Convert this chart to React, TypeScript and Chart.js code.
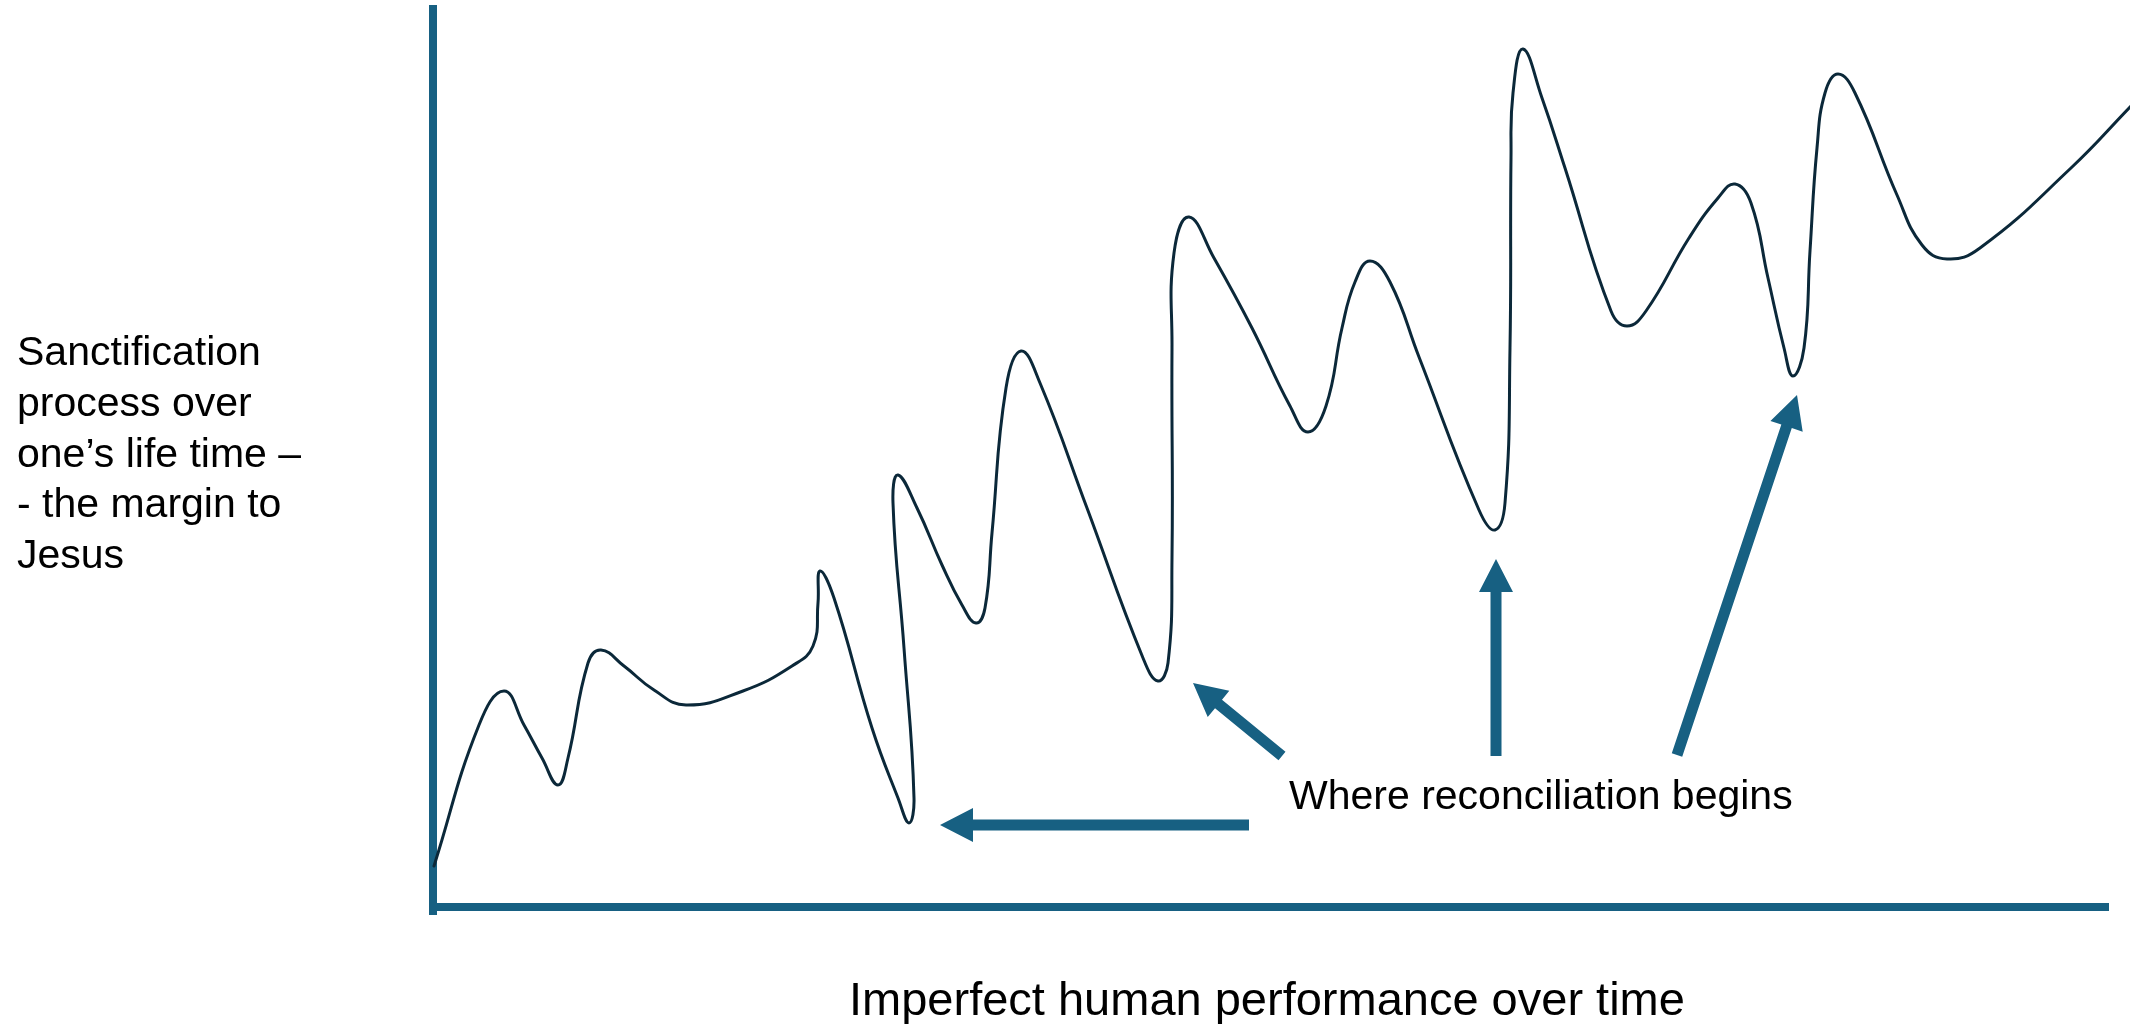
import React, { useEffect, useRef } from "react";
import { Chart, registerables } from "chart.js";

Chart.register(...registerables);

// Curve: time (x) vs sanctification margin (y), arbitrary units
const timeValues = [
  0.1, 4.6, 7.1, 9.1, 10.9, 12.5, 13.5, 15.5, 16.8, 19.1, 22.1, 25.3, 31.0, 35.9, 38.0, 38.5, 38.7, 40.1,
  43.9, 46.5, 47.6, 48.1, 47.1, 46.0, 46.5, 48.4, 50.9, 52.9, 54.3, 55.2, 55.9, 57.3, 58.8, 60.7, 65.4,
  71.0, 72.5, 73.5, 73.9, 73.9, 74.1, 75.6, 78.1, 81.9, 85.7, 87.5, 89.3, 90.9, 92.2, 93.7, 95.7, 98.6,
  104.6, 106.2, 107.2, 107.7, 107.8, 108.0, 109.0, 110.9, 113.2, 117.8, 119.4, 121.3, 125.6, 128.5, 130.2,
  131.8, 133.5, 135.1, 136.0, 137.1, 137.7, 138.4, 139.2, 140.5, 142.2, 146.4, 148.9, 151.4, 154.7, 163.8,
  169.8,
];
const marginValues = [
  4.1, 18.2, 21.6, 18.2, 14.9, 12.2, 14.9, 24.4, 25.7, 24.1, 21.7, 20.2, 21.6, 24.1, 26.1, 30.4, 33.6, 30.9,
  17.9, 10.9, 8.4, 10.9, 25.9, 40.4, 43.2, 39.9, 34.2, 30.2, 28.4, 29.9, 37.4, 51.9, 55.6, 52.4, 39.9,
  24.9, 22.6, 24.4, 34.9, 55.9, 65.4, 69.0, 64.9, 57.9, 50.1, 47.5, 50.1, 57.9, 62.5, 64.6, 62.5, 55.0,
  39.7, 37.7, 40.4, 55.9, 74.9, 81.4, 85.8, 80.9, 73.9, 59.6, 58.1, 59.6, 66.9, 70.9, 72.3,
  70.4, 62.9, 55.9, 53.1, 55.9, 65.6, 75.9, 81.4, 83.3, 81.4, 71.2, 66.2, 64.8, 65.9, 73.9,
  80.1,
];

// Arrows "Where reconciliation begins" (tail -> tip), same units
const arrowTailX = [81.6, 84.9, 106.3, 124.4];
const arrowTailY = [8.2, 15.1, 15.1, 15.2];
const arrowTipX = [50.7, 76.0, 106.3, 136.4];
const arrowTipY = [8.2, 22.4, 34.8, 51.2];

// Texts
const yAxisLabelLines = [
  "Sanctification",
  "process over",
  "one\u2019s life time \u2013",
  "- the margin to",
  "Jesus",
];
const xAxisLabel = "Imperfect human performance over time";
const calloutLabel = "Where reconciliation begins";

const AXIS_COLOR = "#176082";
const CURVE_COLOR = "#0b2839";
const FONT = '"Liberation Sans", Arial, sans-serif';

export default function App() {
  const canvasRef = useRef<HTMLCanvasElement | null>(null);

  useEffect(() => {
    document.body.style.margin = "0";
    const canvas = canvasRef.current;
    if (!canvas) return;

    const points = timeValues.map((x, i) => ({ x, y: marginValues[i] }));

    const arrowPlugin = {
      id: "reconciliationArrows",
      afterDatasetsDraw(chart: any) {
        const { ctx } = chart;
        const xs = chart.scales.x;
        const ys = chart.scales.y;
        ctx.save();
        ctx.fillStyle = AXIS_COLOR;
        const headLen = 33;
        const headHalf = 17;
        const shaftHalf = 5.5;
        for (let i = 0; i < arrowTipX.length; i++) {
          const x0 = xs.getPixelForValue(arrowTailX[i]);
          const y0 = ys.getPixelForValue(arrowTailY[i]);
          const x1 = xs.getPixelForValue(arrowTipX[i]);
          const y1 = ys.getPixelForValue(arrowTipY[i]);
          const dx = x1 - x0;
          const dy = y1 - y0;
          const len = Math.hypot(dx, dy);
          const ux = dx / len;
          const uy = dy / len;
          const nx = -uy;
          const ny = ux;
          const bx = x1 - ux * headLen;
          const by = y1 - uy * headLen;
          ctx.beginPath();
          ctx.moveTo(x0 + nx * shaftHalf, y0 + ny * shaftHalf);
          ctx.lineTo(bx + nx * shaftHalf, by + ny * shaftHalf);
          ctx.lineTo(bx + nx * headHalf, by + ny * headHalf);
          ctx.lineTo(x1, y1);
          ctx.lineTo(bx - nx * headHalf, by - ny * headHalf);
          ctx.lineTo(bx - nx * shaftHalf, by - ny * shaftHalf);
          ctx.lineTo(x0 - nx * shaftHalf, y0 - ny * shaftHalf);
          ctx.closePath();
          ctx.fill();
        }
        ctx.restore();
      },
    };

    const textPlugin = {
      id: "diagramTexts",
      afterDraw(chart: any) {
        const { ctx } = chart;
        ctx.save();
        ctx.fillStyle = "#000000";
        ctx.textAlign = "left";
        ctx.textBaseline = "alphabetic";
        ctx.font = `41px ${FONT}`;
        yAxisLabelLines.forEach((line, i) => {
          ctx.fillText(line, 17, 365 + i * 50.8);
        });
        ctx.fillText(calloutLabel, 1289, 809);
        ctx.font = `47px ${FONT}`;
        ctx.fillText(xAxisLabel, 849, 1015);
        ctx.restore();
      },
    };

    const chart = new Chart(canvas, {
      type: "line",
      data: {
        datasets: [
          {
            data: points,
            borderColor: CURVE_COLOR,
            borderWidth: 3,
            pointRadius: 0,
            pointHoverRadius: 0,
            tension: 0.45,
            fill: false,
            clip: false as any,
            capBezierPoints: false,
            borderJoinStyle: "round",
            borderCapStyle: "round",
          } as any,
        ],
      },
      options: {
        responsive: false,
        animation: false,
        devicePixelRatio: 1,
        events: [],
        layout: { padding: { left: 433, top: 9, right: 22, bottom: 117 } },
        plugins: {
          legend: { display: false },
          tooltip: { enabled: false },
          title: { display: false },
        },
        scales: {
          x: {
            type: "linear",
            min: 0,
            max: 167.5,
            grid: { display: false, drawTicks: false },
            ticks: { display: false },
            border: { display: true, color: AXIS_COLOR, width: 8 },
          },
          y: {
            type: "linear",
            min: 0,
            max: 89.8,
            grid: { display: false, drawTicks: false, lineWidth: 16 },
            ticks: { display: false },
            border: { display: true, color: AXIS_COLOR, width: 8 },
          },
        },
      } as any,
      plugins: [arrowPlugin, textPlugin],
    });

    return () => {
      chart.destroy();
    };
  }, []);

  return (
    <div style={{ position: "absolute", left: 0, top: 0, width: 2130, height: 1024, background: "#ffffff" }}>
      <canvas ref={canvasRef} width={2130} height={1024} style={{ display: "block", width: 2130, height: 1024 }} />
    </div>
  );
}
